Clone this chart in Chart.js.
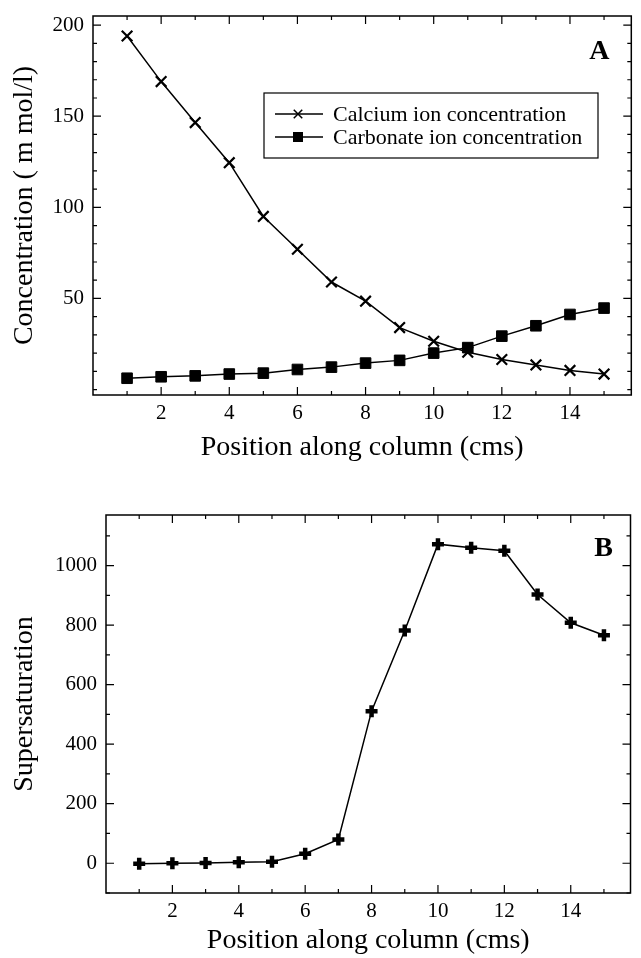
<!DOCTYPE html>
<html lang="en">
<head>
<meta charset="UTF-8">
<meta name="viewport" content="width=device-width, initial-scale=1.0">
<title>Calcium / carbonate concentration and supersaturation along column</title>
<script src="https://cdn.jsdelivr.net/npm/chart.js"></script>
<style>
    body {
        margin: 0;
        background: #fff;
    }
    .panel {
        position: absolute;
        left: 0;
        width: 641px;
    }
    #panelA { top: 0; height: 470px; }
    #panelB { top: 470px; height: 488px; }
</style>
</head>
<body>
<div class="panel" id="panelA"><canvas id="chartA"></canvas></div>
<div class="panel" id="panelB"><canvas id="chartB"></canvas></div>

<script>
// ---- data ----
const positions = [1, 2, 3, 4, 5, 6, 7, 8, 9, 10, 11, 12, 13, 14, 15];
const calcium   = [194, 169, 146.5, 124.5, 95, 77, 59, 48.5, 34, 26.5, 20.5, 16.5, 13.5, 10.5, 8.5];
const carbonate = [6.2, 7, 7.5, 8.5, 9, 11, 12.3, 14.5, 16, 20, 23, 29.3, 35, 41.2, 44.7];
const supersat  = [-2, 0, 1, 3, 5, 32, 80, 511, 782, 1072, 1060, 1050, 903, 808, 766];

// tick labels
const positionTicks = [2, 4, 6, 8, 10, 12, 14];
const positionMinor = [1, 2, 3, 4, 5, 6, 7, 8, 9, 10, 11, 12, 13, 14, 15];
const concTicks = [50, 100, 150, 200];
const concMinor = [0, 10, 20, 30, 40, 50, 60, 70, 80, 90, 100, 110, 120, 130, 140, 150, 160, 170, 180, 190, 200];
const superTicks = [0, 200, 400, 600, 800, 1000];
const superMinor = [-100, 0, 100, 200, 300, 400, 500, 600, 700, 800, 900, 1000, 1100];

const SERIF = "'Liberation Serif', 'DejaVu Serif', serif";
Chart.defaults.color = '#000';
Chart.defaults.font.family = SERIF;

const toPoints = (ys) => positions.map((x, i) => ({ x: x, y: ys[i] }));

// frame + inward ticks on all four sides
const framePlugin = {
    id: 'frame',
    beforeDatasetsDraw(chart, args, opts) {
        const { ctx, chartArea: a, scales: { x, y } } = chart;
        ctx.save();
        ctx.strokeStyle = '#000';
        ctx.lineWidth = 1.5;
        ctx.strokeRect(a.left, a.top, a.right - a.left, a.bottom - a.top);
        ctx.lineWidth = 1.2;
        ctx.beginPath();
        opts.xMinor.forEach(v => {
            const px = x.getPixelForValue(v);
            const len = opts.xMajor.includes(v) ? 8 : 4;
            ctx.moveTo(px, a.bottom); ctx.lineTo(px, a.bottom - len);
            ctx.moveTo(px, a.top); ctx.lineTo(px, a.top + len);
        });
        opts.yMinor.forEach(v => {
            const py = y.getPixelForValue(v);
            const len = opts.yMajor.includes(v) ? 8 : 4;
            ctx.moveTo(a.left, py); ctx.lineTo(a.left + len, py);
            ctx.moveTo(a.right, py); ctx.lineTo(a.right - len, py);
        });
        ctx.stroke();
        // panel letter
        ctx.font = 'bold 28px ' + SERIF;
        ctx.textAlign = 'center';
        ctx.textBaseline = 'middle';
        ctx.fillStyle = '#000';
        ctx.fillText(opts.letter, a.right + opts.letterDx, a.top + opts.letterDy);
        ctx.restore();
    }
};

// legend box inside panel A
const legendBoxPlugin = {
    id: 'legendBox',
    afterDraw(chart, args, opts) {
        if (!opts.show) return;
        const { ctx } = chart;
        ctx.save();
        ctx.strokeStyle = '#000';
        ctx.lineWidth = 1.2;
        ctx.strokeRect(264, 93, 334, 65);
        ctx.font = '22px ' + SERIF;
        ctx.textAlign = 'left';
        ctx.textBaseline = 'middle';
        ctx.fillStyle = '#000';
        const rows = [114, 137];
        chart.data.datasets.forEach((ds, i) => {
            const yy = rows[i];
            ctx.lineWidth = 1.5;
            ctx.beginPath();
            ctx.moveTo(275, yy); ctx.lineTo(323, yy);
            ctx.stroke();
            Chart.helpers.drawPoint(ctx, {
                pointStyle: ds.pointStyle,
                radius: ds.pointRadius * 0.8,
                borderWidth: ds.pointBorderWidth,
                rotation: 0
            }, 298, yy);
            ctx.fillText(ds.label, 333, yy + 1);
        });
        ctx.restore();
    }
};

function makeOptions(cfg) {
    return {
        responsive: true,
        maintainAspectRatio: false,
        animation: false,
        events: [],
        layout: { padding: { left: 0, right: 9, top: cfg.padTop, bottom: 0 } },
        plugins: {
            legend: { display: false },
            tooltip: { enabled: false },
            frame: cfg.frame,
            legendBox: { show: cfg.legend }
        },
        scales: {
            x: {
                type: 'linear',
                min: 0,
                max: 15.8,
                grid: { display: false, drawTicks: false },
                border: { display: false },
                afterBuildTicks: (s) => { s.ticks = positionTicks.map(v => ({ value: v })); },
                afterFit: (s) => { s.height = cfg.xHeight; s.paddingLeft = 0; s.paddingRight = 0; },
                ticks: { font: { size: 21 }, padding: cfg.xTickPad, maxRotation: 0 },
                title: {
                    display: true,
                    text: 'Position along column (cms)',
                    font: { size: 28, lineHeight: 1 },
                    padding: { top: 0, bottom: cfg.xTitlePad }
                }
            },
            y: {
                type: 'linear',
                min: cfg.yMin,
                max: cfg.yMax,
                grid: { display: false, drawTicks: false },
                border: { display: false },
                afterBuildTicks: (s) => { s.ticks = cfg.yTicks.map(v => ({ value: v })); },
                afterFit: (s) => { s.width = cfg.yWidth; s.paddingTop = 0; s.paddingBottom = 0; },
                ticks: { font: { size: 21 }, padding: 9, callback: (v) => String(v) },
                title: {
                    display: true,
                    text: cfg.yTitle,
                    font: { size: 28, lineHeight: 1 },
                    padding: { top: 11, bottom: 0 }
                }
            }
        }
    };
}

new Chart(document.getElementById('chartA'), {
    type: 'line',
    data: {
        datasets: [
            {
                label: 'Calcium ion concentration',
                data: toPoints(calcium),
                borderColor: '#000',
                borderWidth: 1.5,
                pointStyle: 'crossRot',
                pointRadius: 7.5,
                pointBorderWidth: 2.2,
                pointBorderColor: '#000',
                pointBackgroundColor: '#000',
                tension: 0
            },
            {
                label: 'Carbonate ion concentration',
                data: toPoints(carbonate),
                borderColor: '#000',
                borderWidth: 1.5,
                pointStyle: 'rect',
                pointRadius: 7.5,
                pointBorderWidth: 1,
                pointBorderColor: '#000',
                pointBackgroundColor: '#000',
                tension: 0
            }
        ]
    },
    options: makeOptions({
        padTop: 16, xHeight: 75, xTickPad: 6, xTitlePad: 8,
        yMin: -3, yMax: 205, yTicks: concTicks, yWidth: 93,
        yTitle: 'Concentration ( m mol/l)', legend: true,
        frame: { xMajor: positionTicks, xMinor: positionMinor, yMajor: concTicks, yMinor: concMinor,
                 letter: 'A', letterDx: -32, letterDy: 36 }
    }),
    plugins: [framePlugin, legendBoxPlugin]
});

new Chart(document.getElementById('chartB'), {
    type: 'line',
    data: {
        datasets: [
            {
                label: 'Supersaturation',
                data: toPoints(supersat),
                borderColor: '#000',
                borderWidth: 1.5,
                pointStyle: 'cross',
                pointRadius: 6,
                pointBorderWidth: 4.5,
                pointBorderColor: '#000',
                pointBackgroundColor: '#000',
                tension: 0
            }
        ]
    },
    options: makeOptions({
        padTop: 45, xHeight: 65, xTickPad: 6, xTitlePad: 3,
        yMin: -100, yMax: 1170, yTicks: superTicks, yWidth: 106,
        yTitle: 'Supersaturation', legend: false,
        frame: { xMajor: positionTicks, xMinor: positionMinor, yMajor: superTicks, yMinor: superMinor,
                 letter: 'B', letterDx: -27, letterDy: 34 }
    }),
    plugins: [framePlugin, legendBoxPlugin]
});
</script>
</body>
</html>
